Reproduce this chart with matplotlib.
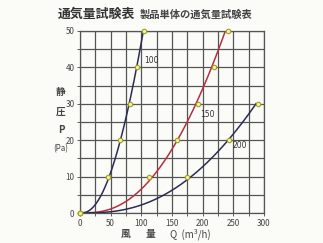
import numpy as np
import matplotlib.pyplot as plt

plt.rcParams['font.family'] = ['Noto Sans CJK JP', 'DejaVu Sans']

# 読み取った値 (静圧 P [Pa] に対する風量 Q [m3/h]) - 測定点
pressure = [0, 10, 20, 30, 40, 50]
flow_100 = [0, 46, 65, 81.5, 93, 104]
flow_150 = [0, 113, 158, 192, 218, 241]
pressure_200 = [0, 10, 20, 30]
flow_200 = [0, 175, 243, 290]

# 原点付近の曲線上の読み取り値 (マーカーなし)
trace_p_100 = [3.5]
trace_q_100 = [33]
trace_p_150 = [1.6, 4.4]
trace_q_150 = [65, 93]
trace_p_200 = [1.6, 5.5]
trace_q_200 = [93, 147]

series = [
    ('100', flow_100, pressure, trace_q_100, trace_p_100, '#2b2d55', (117, 42)),
    ('150', flow_150, pressure, trace_q_150, trace_p_150, '#b3303f', (207, 27)),
    ('200', flow_200, pressure_200, trace_q_200, trace_p_200, '#2b2d55', (261, 18.5)),
]

fig = plt.figure(figsize=(3.23, 2.43), dpi=100)
fig.patch.set_facecolor('#fbfbf8')
ax = fig.add_axes([80 / 323, 1 - 213 / 243, 184 / 323, 182 / 243])
ax.set_facecolor('#fbfbf8')

for name, q, p, tq, tp, col, pos in series:
    qa = np.array(q + tq, dtype=float)
    pa = np.array(p + tp, dtype=float)
    # 曲線は P^(1/3) に対する二次式で滑らかに描く
    c = np.polyfit(np.cbrt(pa), qa, 2)
    c[-1] = 0
    pp = np.linspace(0, max(p), 300)
    ax.plot(np.polyval(c, np.cbrt(pp)), pp, color=col, lw=1.1, zorder=3)
    ax.plot(q, p, 'o', ms=3.2, mfc='#f4f0a8', mec='#a0a020', mew=0.8,
            zorder=4, clip_on=False)
    ax.text(pos[0], pos[1], name, fontsize=5.5, color='#333333',
            ha='center', va='center', family=['DejaVu Sans'])

ax.set_xlim(0, 300)
ax.set_ylim(0, 50)
ax.set_xticks(np.arange(0, 301, 25))
ax.set_yticks(np.arange(0, 51, 5))
ax.set_xticklabels([str(v) if v % 50 == 0 else '' for v in range(0, 301, 25)])
ax.set_yticklabels([str(v) if v % 10 == 0 else '' for v in range(0, 51, 5)])
ax.tick_params(labelsize=5.8, length=2, width=0.6, colors='#444444', pad=2)
ax.grid(True, color='#555555', lw=0.9)
for s in ax.spines.values():
    s.set_color('#555555')
    s.set_linewidth(0.9)

fig.text(58 / 323, 1 - 14 / 243, '通気量試験表', fontsize=9.3, fontweight='bold',
         color='#333333', va='center')
fig.text(140 / 323, 1 - 15 / 243, '製品単体の通気量試験表', fontsize=7.4,
         fontweight='bold', color='#444444', va='center')

for txt, y in [('静', 92), ('圧', 112), ('P', 130)]:
    fig.text(61 / 323, 1 - y / 243, txt, fontsize=7, fontweight='bold',
             color='#444444', ha='center', va='center')
fig.text(61 / 323, 1 - 149 / 243, '(Pa)', fontsize=5.8, color='#444444',
         ha='center', va='center')

fig.text(126 / 323, 1 - 234 / 243, '風', fontsize=7, fontweight='bold',
         color='#444444', ha='center', va='center')
fig.text(150 / 323, 1 - 234 / 243, '量', fontsize=7, fontweight='bold',
         color='#444444', ha='center', va='center')
fig.text(170 / 323, 1 - 234 / 243, 'Q  (m³/h)', fontsize=7,
         color='#444444', ha='left', va='center')

fig.savefig('out.png', dpi=100, facecolor=fig.get_facecolor())
